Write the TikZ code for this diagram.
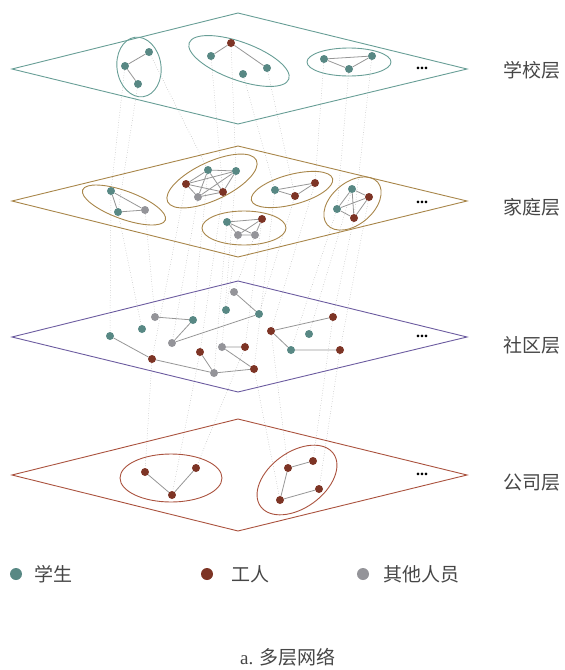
\documentclass[tikz,border=0pt]{standalone}
\usepackage{fontspec}
\setmainfont{Liberation Serif}
\newfontfamily\cjk{Noto Sans CJK SC}
\definecolor{cStu}{RGB}{88,136,132}
\definecolor{cWrk}{RGB}{125,52,37}
\definecolor{cOth}{RGB}{148,148,153}
\definecolor{cEdge}{RGB}{150,150,150}
\definecolor{cLink}{RGB}{170,170,170}
\definecolor{cL1}{RGB}{104,158,150}
\definecolor{cL2}{RGB}{168,134,74}
\definecolor{cL3}{RGB}{108,92,160}
\definecolor{cL4}{RGB}{170,82,62}
\definecolor{cTxt}{RGB}{70,70,70}
\pgfdeclarelayer{bg}
\pgfsetlayers{bg,main}
\tikzset{
  nd/.style={circle, minimum size=8pt, inner sep=0pt},
  stu/.style={nd, fill=cStu},
  wrk/.style={nd, fill=cWrk},
  oth/.style={nd, fill=cOth},
  edge/.style={draw=cEdge, line width=0.8pt},
  link/.style={draw=cLink, dotted, line width=0.5pt},
  plane/.style={line width=0.9pt},
  grp/.style={line width=0.9pt},
  lbl/.style={font=\cjk\fontsize{19}{19}\selectfont, text=cTxt, inner sep=0pt},
  dots/.style={font=\fontsize{16}{16}\selectfont\bfseries, inner sep=0pt},
}
\begin{document}
\begin{tikzpicture}[x=1pt, y=-1pt]
\useasboundingbox (0,0) rectangle (565,670);
% planes
\draw[plane, cL1] (12,69) -- (238,13) -- (467,69) -- (238,124) -- cycle;
\draw[plane, cL2] (12,201) -- (238,146) -- (467,201) -- (238,257) -- cycle;
\draw[plane, cL3] (12,337) -- (238,281) -- (467,337) -- (238,392) -- cycle;
\draw[plane, cL4] (12,475) -- (238,419) -- (467,475) -- (238,531) -- cycle;
% groups
\draw[grp, cL1, rotate around={8:(139,67)}] (139,67) ellipse [x radius=22, y radius=30];
\draw[grp, cL1, rotate around={-20:(239,61)}] (239,61) ellipse [x radius=53, y radius=19];
\draw[grp, cL1] (349,62) ellipse [x radius=42, y radius=14];
\draw[grp, cL2, rotate around={-20:(124,205)}] (124,205) ellipse [x radius=44, y radius=14];
\draw[grp, cL2, rotate around={25:(212,181)}] (212,181) ellipse [x radius=49, y radius=19];
\draw[grp, cL2, rotate around={15:(292,189.5)}] (292,189.5) ellipse [x radius=42, y radius=15];
\draw[grp, cL2] (244,228) ellipse [x radius=42, y radius=17];
\draw[grp, cL2, rotate around={40:(352.5,203.5)}] (352.5,203.5) ellipse [x radius=33, y radius=21];
\draw[grp, cL4] (171,478) ellipse [x radius=51, y radius=24];
\draw[grp, cL4, rotate around={36:(297,480)}] (297,480) ellipse [x radius=45, y radius=28];
% layer 1 nodes
\node[stu] (a1) at (149,52) {};
\node[stu] (a2) at (125,66) {};
\node[stu] (a3) at (138,84) {};
\node[wrk] (b1) at (231,43) {};
\node[stu] (b2) at (211,56) {};
\node[stu] (b3) at (267,68) {};
\node[stu] (b4) at (243,74) {};
\node[stu] (c1) at (324,59) {};
\node[stu] (c2) at (372,56) {};
\node[stu] (c3) at (349,69) {};
% layer 2 nodes
\node[stu] (d1) at (111,191) {};
\node[stu] (d2) at (118,212) {};
\node[oth] (d3) at (145,210) {};
\node[stu] (e1) at (208,170) {};
\node[stu] (e2) at (236,171) {};
\node[wrk] (e3) at (186,184) {};
\node[wrk] (e4) at (223,192) {};
\node[oth] (e5) at (198,197) {};
\node[stu] (f1) at (275,190) {};
\node[wrk] (f2) at (315,183) {};
\node[wrk] (f3) at (295,196) {};
\node[stu] (g1) at (227,222) {};
\node[wrk] (g2) at (262,219) {};
\node[oth] (g3) at (238,235) {};
\node[oth] (g4) at (255,235) {};
\node[stu] (h1) at (352,189) {};
\node[wrk] (h2) at (369,197) {};
\node[stu] (h3) at (337,209) {};
\node[wrk] (h4) at (354,218) {};
% layer 3 nodes
\node[oth] (s1) at (234,292) {};
\node[stu] (s2) at (226,310) {};
\node[stu] (s3) at (259,314) {};
\node[oth] (s4) at (155,317) {};
\node[stu] (s5) at (193,320) {};
\node[stu] (s6) at (142,329) {};
\node[stu] (s7) at (110,336) {};
\node[oth] (s8) at (172,343) {};
\node[wrk] (s9) at (271,331) {};
\node[wrk] (s10) at (333,317) {};
\node[stu] (s11) at (309,334) {};
\node[stu] (s12) at (291,350) {};
\node[wrk] (s13) at (340,350) {};
\node[wrk] (s14) at (200,352) {};
\node[oth] (s15) at (222,347) {};
\node[wrk] (s16) at (245,347) {};
\node[wrk] (s17) at (152,359) {};
\node[oth] (s18) at (214,373) {};
\node[wrk] (s19) at (254,369) {};
% layer 4 nodes
\node[wrk] (p1) at (145,472) {};
\node[wrk] (p2) at (196,468) {};
\node[wrk] (p3) at (172,495) {};
\node[wrk] (q1) at (288,468) {};
\node[wrk] (q2) at (313,461) {};
\node[wrk] (q3) at (319,489) {};
\node[wrk] (q4) at (280,500) {};
\begin{pgfonlayer}{bg}
% intra-layer edges
\draw[edge] (a2) -- (a1) (a2) -- (a3);
\draw[edge] (b1) -- (b2) (b1) -- (b3);
\draw[edge] (c1) -- (c2) (c1) -- (c3) (c3) -- (c2);
\draw[edge] (d1) -- (d2) (d1) -- (d3) (d2) -- (d3);
\draw[edge] (e1) -- (e2) (e1) -- (e3) (e1) -- (e4) (e1) -- (e5) (e2) -- (e3) (e2) -- (e4) (e2) -- (e5) (e3) -- (e4) (e3) -- (e5) (e4) -- (e5);
\draw[edge] (f1) -- (f2) (f1) -- (f3) (f3) -- (f2);
\draw[edge] (g1) -- (g2) (g1) -- (g3) (g1) -- (g4) (g3) -- (g4) (g3) -- (g2) (g4) -- (g2);
\draw[edge] (h1) -- (h2) (h1) -- (h3) (h1) -- (h4) (h3) -- (h2) (h3) -- (h4) (h2) -- (h4);
\draw[edge] (s1) -- (s3) (s4) -- (s5) (s5) -- (s8) (s8) -- (s3) (s7) -- (s17) (s17) -- (s18) (s14) -- (s18) (s18) -- (s19) (s15) -- (s16) (s15) -- (s19) (s9) -- (s10) (s9) -- (s12) (s12) -- (s13);
\draw[edge] (p1) -- (p3) (p3) -- (p2) (q1) -- (q2) (q1) -- (q4) (q4) -- (q3);
% inter-layer links: school -> family
\draw[link] (a2) -- (d1) (a3) -- (d2) (a1) -- (e1) (b2) -- (e4) (b1) -- (e2) (b4) -- (f1) (b3) -- (f3) (c1) -- (f2) (c3) -- (h3) (c2) -- (h4);
% family -> community
\draw[link] (d1) -- (s7) (d2) -- (s6) (d3) -- (s4) (e3) -- (s17) (e5) -- (s8) (e1) -- (s5) (e4) -- (s14) (g1) -- (s18) (e2) -- (s15) (g3) -- (s2) (g4) -- (s1) (g2) -- (s16) (f1) -- (s19) (f3) -- (s3) (f2) -- (s9) (h3) -- (s12) (h1) -- (s11) (h4) -- (s10) (h2) -- (s13);
% community -> company
\draw[link] (s17) -- (p1) (s14) -- (p3) (s16) -- (p2) (s19) -- (q4) (s9) -- (q1) (s10) -- (q2) (s13) -- (q3);
\end{pgfonlayer}
% ellipsis marks
\node[dots] (m1) at (422,68) {...};
\node[dots] (m2) at (422,202) {...};
\node[dots] (m3) at (422,336) {...};
\node[dots] (m4) at (422,474) {...};
% layer labels
\node[lbl] (t1) at (532,70) {学校层};
\node[lbl] (t2) at (532,207) {家庭层};
\node[lbl] (t3) at (532,345) {社区层};
\node[lbl] (t4) at (532,483) {公司层};
% legend
\node[nd, minimum size=12pt, fill=cStu] (k1) at (16,574) {};
\node[lbl, anchor=west] (k1t) at (34,574) {学生};
\node[nd, minimum size=12pt, fill=cWrk] (k2) at (207,574) {};
\node[lbl, anchor=west] (k2t) at (231,574) {工人};
\node[nd, minimum size=12pt, fill=cOth] (k3) at (363,574) {};
\node[lbl, anchor=west] (k3t) at (383,574) {其他人员};
% caption
\node[font=\fontsize{19}{19}\selectfont, text=cTxt, inner sep=0pt] (cap) at (288,657) {a. {\cjk 多层网络}};
\end{tikzpicture}
\end{document}
